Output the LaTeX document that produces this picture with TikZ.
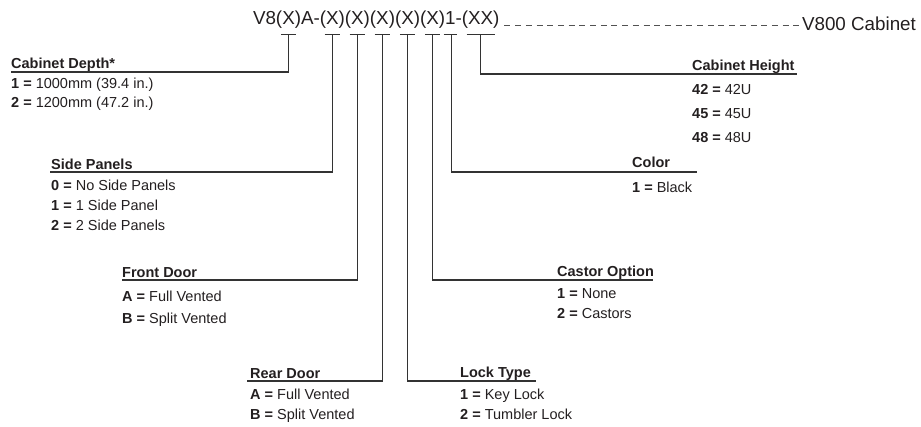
\documentclass[tikz,border=0pt]{standalone}
\usepackage{fontspec}
\setmainfont{Liberation Sans}
\definecolor{ink}{HTML}{231F20}
\definecolor{wire}{HTML}{333333}
\tikzset{
  code/.style={anchor=base west, inner sep=0pt, outer sep=0pt, font=\fontsize{18.8}{20}\selectfont, text=ink},
  ttl/.style={anchor=base west, inner sep=0pt, font=\fontsize{14.5}{16}\selectfont\bfseries, text=ink},
  itm/.style={anchor=base west, inner sep=0pt, font=\fontsize{14.5}{16}\selectfont, text=ink},
  conn/.style={draw=wire, line width=1.2pt},
  dashln/.style={draw=wire!85, line width=0.9pt, dash pattern=on 6pt off 4.7pt},
}
\newcommand{\kk}[1]{\textbf{#1}}
\begin{document}
\begin{tikzpicture}[x=1pt, y=-1pt]
\useasboundingbox (0,0) rectangle (921,426);
% ---- model code ----
\node[code] (c0) at (253,24.5) {V8(};
\node[code] (x1) at (c0.base east) {X};
\node[code] (c1) at (x1.base east) {)A-(};
\node[code] (x2) at (c1.base east) {X};
\node[code] (c2) at (x2.base east) {)(};
\node[code] (x3) at (c2.base east) {X};
\node[code] (c3) at (x3.base east) {)(};
\node[code] (x4) at (c3.base east) {X};
\node[code] (c4) at (x4.base east) {)(};
\node[code] (x5) at (c4.base east) {X};
\node[code] (c5) at (x5.base east) {)(};
\node[code] (x6) at (c5.base east) {X};
\node[code] (c6) at (x6.base east) {)};
\node[code] (x7) at (c6.base east) {1};
\node[code] (c7) at (x7.base east) {-(};
\node[code] (x8) at (c7.base east) {XX};
\node[code] (c8) at (x8.base east) {)};
\node[code] (v800) at (802,30) {V800 Cabinet};
\coordinate (d0) at ([shift={(5pt,-0.5pt)}]c8.base east);
\draw[dashln] (d0) -- (d0 -| v800.west);
% underlines and tick points
\foreach \i in {1,...,8}{
  \draw[conn] ([shift={(-1.5pt,-10pt)}]x\i.base west) -- ([shift={(1.5pt,-10pt)}]x\i.base east);
}
\foreach \i in {1,...,6,8}{
  \coordinate (t\i) at ([yshift=-10pt]x\i.base);
}
\coordinate (t7) at ([shift={(1.5pt,-10pt)}]x7.base);
% ---- Cabinet Depth ----
\coordinate (eD) at (11,72);
\node[ttl] (tD) at (11,68) {Cabinet Depth*};
\node[itm] (iD1) at (11,88) {\kk{1 =} 1000mm (39.4 in.)};
\node[itm] (iD2) at (11,107) {\kk{2 =} 1200mm (47.2 in.)};
% ---- Side Panels ----
\coordinate (eS) at (50,172);
\node[ttl] (tS) at (51,169) {Side Panels};
\node[itm] (iS1) at (51,190) {\kk{0 =} No Side Panels};
\node[itm] (iS2) at (51,210) {\kk{1 =} 1 Side Panel};
\node[itm] (iS3) at (51,230) {\kk{2 =} 2 Side Panels};
% ---- Front Door ----
\coordinate (eF) at (122,280);
\node[ttl] (tF) at (122,277) {Front Door};
\node[itm] (iF1) at (122,301) {\kk{A =} Full Vented};
\node[itm] (iF2) at (122,323) {\kk{B =} Split Vented};
% ---- Rear Door ----
\coordinate (eR) at (247,381);
\node[ttl] (tR) at (250,378) {Rear Door};
\node[itm] (iR1) at (250,399) {\kk{A =} Full Vented};
\node[itm] (iR2) at (250,419) {\kk{B =} Split Vented};
% ---- Lock Type ----
\coordinate (eL) at (536,381);
\node[ttl] (tL) at (460,377) {Lock Type};
\node[itm] (iL1) at (460,399) {\kk{1 =} Key Lock};
\node[itm] (iL2) at (460,419) {\kk{2 =} Tumbler Lock};
% ---- Castor Option ----
\coordinate (eC) at (653,280);
\node[ttl] (tC) at (557,276) {Castor Option};
\node[itm] (iC1) at (557,298) {\kk{1 =} None};
\node[itm] (iC2) at (557,318) {\kk{2 =} Castors};
% ---- Color ----
\coordinate (eK) at (697,172);
\node[ttl] (tK) at (632,167) {Color};
\node[itm] (iK1) at (632,192) {\kk{1 =} Black};
% ---- Cabinet Height ----
\coordinate (eH) at (797,74);
\node[ttl] (tH) at (692,70) {Cabinet Height};
\node[itm] (iH1) at (692,94) {\kk{42 =} 42U};
\node[itm] (iH2) at (692,118) {\kk{45 =} 45U};
\node[itm] (iH3) at (692,142) {\kk{48 =} 48U};
% ---- connectors ----
\draw[conn] (t1) |- (eD);
\draw[conn] (t2) |- (eS);
\draw[conn] (t3) |- (eF);
\draw[conn] (t4) |- (eR);
\draw[conn] (t5) |- (eL);
\draw[conn] (t6) |- (eC);
\draw[conn] (t7) |- (eK);
\draw[conn] (t8) |- (eH);
\end{tikzpicture}
\end{document}
